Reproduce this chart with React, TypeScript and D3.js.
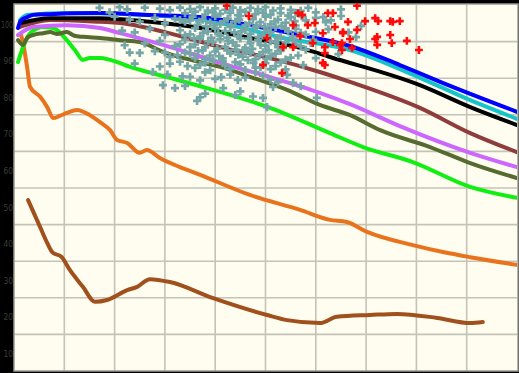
import * as d3 from 'd3';

// x runs 0..100 (no labels visible), y is percent
const yTicks = [100, 90, 80, 70, 60, 50, 40, 30, 20, 10];
const xGrid = [10, 20, 30, 40, 50, 60, 70, 80, 90];

const brown = [[2.8,46.7],[5.2,39.3],[6.6,35],[7.6,32.5],[9.5,31.1],[11.1,27.6],[13.7,23],[16.1,18.9],[18.5,19.4],[22.5,22.1],[24.5,23],[27,25.1],[31,24.3],[39.6,19.9],[50.3,15.3],[54.3,13.9],[60.8,13.1],[64.2,14.8],[70.8,15.3],[76.1,15.6],[84.1,14.5],[90.7,13.1],[93.2,13.4]];
const orange = [[1.4,91.8],[1.8,89.6],[2.6,83.1],[3.2,77.6],[5.2,74.9],[6.6,72.1],[7.8,69.1],[9.1,69.7],[10.5,70.5],[12.5,71.3],[15.1,69.9],[17.1,68],[19.1,65.8],[20.5,63.1],[22.5,62.3],[25,59.6],[26.4,60.4],[29,58.2],[33,55.7],[37,53.6],[46.9,48.1],[56.9,44],[62.8,41.3],[66.2,40.7],[70.2,38],[79.3,34.4],[85.3,32.5],[90.7,31.1],[100,29]];
const green = [[0.8,84.4],[1.8,88.5],[3.2,92.3],[5.8,94],[7.8,93.7],[10.5,90.4],[12.1,87.7],[13.7,85],[15.1,85.5],[17.1,85.5],[19.1,85],[23.7,82.8],[31,80.1],[37.6,77.6],[44.3,74.9],[50.9,71.9],[62.8,65],[69.4,61.2],[79.3,57.1],[90.7,50.3],[100,47.3]];
const olive = [[0.8,90.4],[1.8,89.1],[2.6,91],[3.8,91.8],[5.8,92.3],[7.2,92.6],[8.5,92.1],[10.5,92.6],[12,91.6],[13.7,91.3],[17.1,91],[21.1,90.4],[25,89.9],[29.6,87.2],[37.6,84.2],[41,83.1],[47.5,80.1],[54.3,76.8],[60.8,72.7],[66.8,69.9],[72.8,65.8],[82.7,61.2],[90.7,56.8],[100,52.7]];
const purple = [[0.8,91.8],[3.8,94],[10.5,94.5],[17.1,93.7],[21.1,92.3],[29.6,89.1],[41,84.2],[50.9,80.3],[60.8,76],[66.8,72.9],[76.7,66.9],[90.7,59.6],[100,55.7]];
const maroon = [[1.2,94],[7.2,95.9],[17.1,95.4],[21.1,95.1],[33,91.5],[41,88.5],[50.9,85.5],[60.8,81.7],[66.8,79],[80.7,71.9],[90.7,65],[100,59.8]];
const black = [[1.2,95.1],[7.2,96.4],[17.1,96.4],[27,95.4],[37,93.7],[46.9,91],[56.9,88.3],[62.8,85.8],[80.7,78.1],[90.7,72.1],[100,67.2]];
const cyan = [[1.2,95.9],[2.6,97.3],[10.5,97.8],[33,96.7],[42.9,94.5],[53.5,91],[66.8,87.7],[80.7,80.1],[90.7,74],[100,68.9]];
const blue = [[0.8,93.7],[1.2,95.4],[1.8,96.2],[2.6,96.7],[3.8,97.3],[7.2,97.5],[17.1,97.8],[27,97.3],[37,96.7],[46.9,94.5],[56.9,91.8],[66.8,88.8],[76.7,83.6],[86.7,77.9],[100,70.8]];

const series = [
  { name: 'brown', color: '#a0501c', data: brown },
  { name: 'orange', color: '#e8731c', data: orange },
  { name: 'green', color: '#11ee11', data: green },
  { name: 'olive', color: '#556b2f', data: olive },
  { name: 'purple', color: '#cc66ff', data: purple },
  { name: 'maroon', color: '#8e3c3c', data: maroon },
  { name: 'black', color: '#000000', data: black },
  { name: 'cyan', color: '#14c4c8', data: cyan },
  { name: 'blue', color: '#0000ff', data: blue },
];

const tealPoints = [
  [17,99.2],[21,99.4],[22.5,98.8],[26,99.3],[29,99],[31,98.6],[33,99.3],[35,98.9],[37,99.4],[38.5,98.5],[40,99.1],[42,98.7],[43.5,99.3],[45,98.6],[47,99.2],[48.5,98.8],[50,99.4],[51.5,98.5],[53,99.1],[55,98.7],[57,98.4],[58.5,99.2],[65,98.8],
  [25,95.5],[28,96.5],[30,95],[32,96.2],[34,95.4],[35.5,96.8],[36.5,94.6],[37.5,96],[39,95.2],[40,96.9],[41,94.8],[42.5,96.3],[44,95.5],[45,97],[46,94.5],[47.5,96.1],[49,95.3],[50,96.8],[51,94.7],[52.5,96],[54,95.2],[55,96.7],[56,94.4],[58,95.8],[60,96.5],[62,95.3],
  [24,92.5],[27,93.5],[30,91.8],[33,93.1],[35,92],[36,93.7],[37,91.4],[38.5,92.8],[40,93.6],[41,91.6],[42,92.9],[43,94],[44.5,91.5],[46,93.2],[47,92.1],[48,93.8],[49.5,91.7],[51,92.6],[52,93.9],[53,91.3],[54.5,92.8],[56,93.5],[58,91.9],[60,92.7],
  [26,89.5],[29,90.2],[32,88.8],[34,90.5],[36,89.2],[37,90.8],[38,88.4],[39.5,89.9],[41,90.6],[42,88.6],[43.5,89.7],[45,90.9],[46,88.3],[47,89.5],[48.5,90.4],[50,88.9],[51,90.1],[52.5,88.5],[54,89.8],[55.5,90.6],[57,88.7],[59,89.6],
  [25,86.9],[28,87.4],[31,85.8],[34,87],[36,85.5],[37.5,87.6],[39,86.2],[40,87.3],[41.5,85.4],[43,86.8],[44,87.8],[45.5,85.9],[47,86.9],[48,85.2],[49.5,87.1],[51,86],[53,87.5],[55,85.6],
  [24,84],[29,83.2],[33,84.5],[36,82.8],[38,84.2],[39,82.2],[41.5,84.7],[43,82.5],[45,83.8],[46.5,84.9],[48,82.9],[50,84.1],[52,83.3],[54,82.4],
  [27.6,81.7],[35,80.4],[38,81.6],[40,79.8],[43,81],[46,80.2],[48,81.7],[51,79.6],[54.3,80.9],
  [29.6,78.1],[32,77.3],[34,77.9],[38,75.8],[41.6,77.3],[45,76.4],[51.5,77.6],[55.5,78.7],[57,77.8],
  [36.4,73.8],[37,74.8],[44,75.4],[47.5,75],[49.5,74.6],[50.3,72.1],[60.2,74.6],
  [65,97],[69,94.3],[68,91.2],[66.5,92.5],[64.5,86.6],
  [34,97.8],[36,98.2],[38,97.4],[39.5,98],[41,97.6],[43,97.9],[44.5,97.2],[46,98.1],[48,97.5],[49.5,97.9],[51,97.3],[53,97.8],[54.5,97.1],[56,97.9],
  [33,95.9],[35,95.8],[36.8,95.5],[38.2,94.2],[39.8,94.4],[41.8,95.6],[43.2,94.6],[44.8,96],[46.8,95],[48.2,94.3],[49.8,94],[51.8,95.5],[53.2,94.3],[55.8,95.6],[57.2,96.9],
  [34,91.7],[35.8,90.9],[37.6,92.4],[39.2,91],[40.6,92.2],[42.4,91.1],[43.8,92.5],[45.2,92.8],[46.6,90.8],[48.6,91.2],[50.4,93],[52.4,91],[54,93.6],[55.4,91.4],[57,92.4],
  [33,89.3],[35,88.5],[36.6,87.4],[38.6,90.1],[40.4,88.1],[42.6,90.2],[44.2,88.9],[45.6,87.7],[47.4,88],[49,89.1],[50.6,87.6],[52,89.8],[53.4,88.2],[56,89.2],
  [30,87],[32.5,86.3],[35,86.8],[38,85.2],[40.8,86],[42.4,87.6],[44.6,86.4],[46.2,87.4],[48.8,86.3],[50.2,85.3],[52,86.7],[54,85.1],
  [31,84],[34.5,83.3],[37,83.6],[39.6,84.8],[42,83.4],[44,84.4],[46,82.2],[47.6,84.2],[49,83],[51,82.5],[53,84.3],
  [30.5,81],[33.5,80.5],[37,79.4],[41.2,80.3],[44.5,79.5],[49.5,80.7],[52.5,78.9],
  [22,89],[23,87],[21.5,93],[23,96],[20,96.8],[19,98],
  [60,98],[61.5,96.7],[63,95.8],[62.5,93.4],[59.5,90.5],[58,87.8],[56.5,86.2],[60,85.5],[57.5,83.6],
];

const redPoints = [
  [42.3,99.8],[46.7,97],[57.3,97.3],[56.5,97.8],[55.5,94.5],[58.4,94.5],[63.8,94],[61.4,92.3],[65.4,92.3],[50.3,91],
  [53.5,88.5],[55.5,88.5],[61.8,88.5],[64.8,89.1],[49.5,83.6],[53.3,81.4],[61.4,84.2],[62.4,97.8],[63.4,97.8],[68.2,99.8],
  [66.4,95.4],[69.8,95.6],[71.8,96.4],[72.4,95.6],[74.8,95.6],[75.3,95.4],[76.7,95.6],[65.4,92.6],[68.2,93.2],[66.8,90.7],
  [65.2,89.6],[63.4,89.9],[72.2,91.3],[71.8,90.7],[74.8,91.8],[72.2,89.1],[75.1,89.6],[78.1,90.2],[80.5,87.7],[65.2,87.7],
  [67.2,88.3],[59.8,95.1],[56.9,91.5],[59.4,89.6],[61.8,86.9],[61.8,83.6],
];

export default function App() {
  const width = 519;
  const height = 373;
  const left = 14, right = 517, top = 5, bottom = 371;

  const x = d3.scaleLinear().domain([0, 100]).range([left, right]);
  const y = d3.scaleLinear().domain([0, 100]).range([bottom, top]);

  const line = d3.line<number[]>()
    .x(d => x(d[0]))
    .y(d => y(d[1]))
    .curve(d3.curveMonotoneX);

  const cross = d3.symbol().type(d3.symbolCross);
  const tealPath = cross.size(36)() as string;
  const redPath = cross.size(34)() as string;

  return (
    <div style={{ position: 'absolute', left: 0, top: 0 }}>
      <svg width={width} height={height} style={{ display: 'block', background: '#000' }}>
        <defs>
          <clipPath id="plot">
            <rect x={left} y={top - 2} width={right - left} height={bottom - top + 2} />
          </clipPath>
        </defs>
        <rect x={left} y={top - 1} width={right - left + 1} height={bottom - top + 1} fill="#fefdef" />
        <g stroke="#c4c3b8" strokeWidth={1.6}>
          {yTicks.slice(1).map(t => (
            <line key={'h' + t} x1={left} x2={right} y1={y(t)} y2={y(t)} />
          ))}
          {xGrid.map(t => (
            <line key={'v' + t} x1={x(t)} x2={x(t)} y1={top} y2={bottom} />
          ))}
        </g>
        <rect x={left} y={top - 1} width={right - left + 1} height={bottom - top + 1} fill="none" stroke="#9a9a90" strokeWidth={1.5} />
        <g fill="#3c3c3c" fontFamily="DejaVu Sans, sans-serif" fontSize={9} textAnchor="end">
          {yTicks.map(t => (
            <text key={'l' + t} x={13} y={y(t) + 20} dominantBaseline="middle"
              textLength={t >= 100 ? 12 : 9.5} lengthAdjust="spacingAndGlyphs">{t}</text>
          ))}
        </g>
        <g clipPath="url(#plot)">
          {series.map(s => (
            <path key={s.name} d={line(s.data) as string} fill="none" stroke={s.color} strokeWidth={4} strokeLinejoin="round" strokeLinecap="round" />
          ))}
          {tealPoints.map((p, i) => (
            <path key={'t' + i} d={tealPath} transform={`translate(${x(p[0])},${y(p[1])})`} fill="#74a6a8" />
          ))}
          {redPoints.map((p, i) => (
            <path key={'r' + i} d={redPath} transform={`translate(${x(p[0])},${y(p[1])})`} fill="#ff0a0a" />
          ))}
        </g>
        <line x1={left} x2={right + 2} y1={1.5} y2={1.5} stroke="#000" strokeWidth={3} />
      </svg>
    </div>
  );
}
